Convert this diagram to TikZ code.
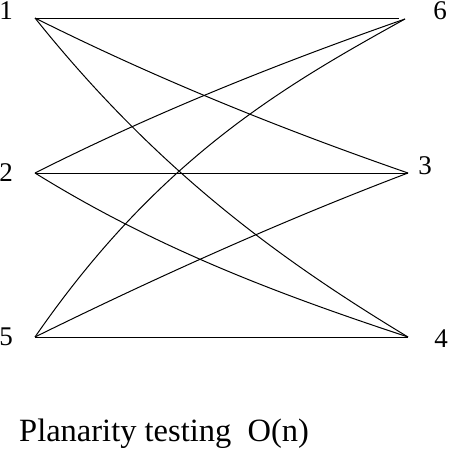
\documentclass[tikz,border=0pt]{standalone}
\usepackage{fontspec}
\setmainfont{Liberation Serif}
\begin{document}
\begin{tikzpicture}[x=1pt,y=-1pt,
  edge/.style={line width=1pt,black},
  vlabel/.style={inner sep=0pt,font=\fontsize{27}{32}\selectfont},
  caption/.style={inner sep=0pt,anchor=base west,font=\fontsize{32.5}{38}\selectfont}]
\useasboundingbox[fill=white] (0,0) rectangle (448,453);
% vertices
\coordinate (v1) at (35,18);
\coordinate (v6a) at (399,18);
\coordinate (v6) at (405,19);
\coordinate (v2) at (35,173);
\coordinate (v3) at (408,173);
\coordinate (v5) at (35,337);
\coordinate (v4) at (408,337);
% labels
\node[vlabel] (l1) at (6,11) {1};
\node[vlabel] (l6) at (440,11) {6};
\node[vlabel] (l2) at (6,173) {2};
\node[vlabel] (l3) at (425,166) {3};
\node[vlabel] (l5) at (6,337) {5};
\node[vlabel] (l4) at (441,339) {4};
% straight edges
\draw[edge] (v1) -- (v6a);
\draw[edge] (v2) -- (v3);
\draw[edge] (v5) -- (v4);
% curved edges
\draw[edge] (v1) .. controls (159,80) and (284,130) .. (v3);
\draw[edge] (v1) .. controls (159,173) and (284,262) .. (v4);
\draw[edge] (v2) .. controls (158,111) and (282,62) .. (v6);
\draw[edge] (v5) .. controls (158,159) and (282,87) .. (v6);
\draw[edge] (v2) .. controls (159,250) and (284,296) .. (v4);
\draw[edge] (v5) .. controls (159,276) and (284,220) .. (v3);
% caption
\node[caption] (cap) at (19,441) {Planarity testing\ \ O(n)};
\end{tikzpicture}
\end{document}
